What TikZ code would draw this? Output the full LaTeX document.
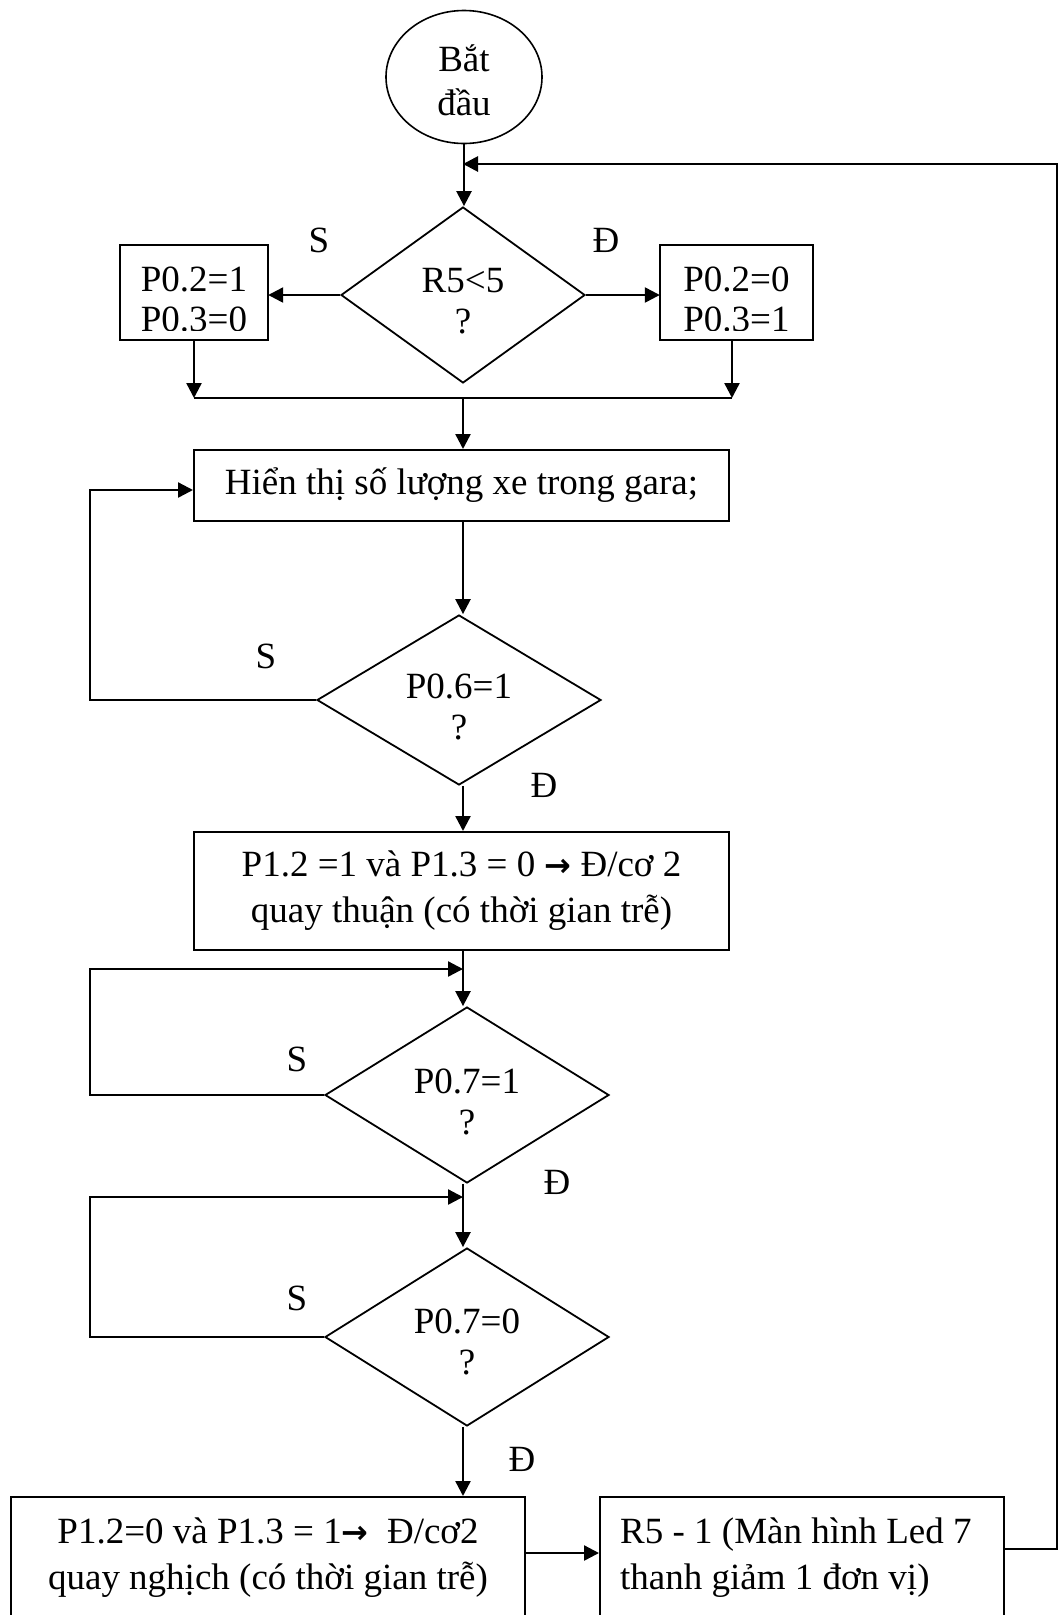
\documentclass[tikz,border=0pt]{standalone}
\usepackage{fontspec}
\setmainfont{Liberation Serif}
\newfontfamily\arrfont{DejaVu Sans}
\usetikzlibrary{shapes.geometric,arrows.meta}
\newcommand\myfs{\fontsize{37}{46}\selectfont}
\newcommand\myfsb{\fontsize{37}{41}\selectfont}
\newcommand\myfsc{\fontsize{37}{40}\selectfont}
\newcommand\myarr{{\arrfont\bfseries\fontsize{32}{32}\selectfont →}}
\begin{document}
\begin{tikzpicture}[x=1pt,y=-1pt,
  line/.style={line width=2.4pt},
  arr/.style={line width=2.4pt,-{Triangle[length=15pt,width=15pt]}},
  boxn/.style={draw,line width=2pt,rectangle,inner sep=0pt},
  dia/.style={draw,line width=1.8pt,diamond,aspect=2,inner sep=0pt},
  dtext/.style={align=center,font=\myfsb,inner sep=0pt},
  lbl/.style={font=\myfs,inner sep=0pt}]
\useasboundingbox (0,0) rectangle (1059,1615);

% start
\node[draw,ellipse,line width=1.6pt,minimum width=156,minimum height=133,inner sep=0pt] (start) at (464,77) {};
\node[align=center,font=\fontsize{37}{44}\selectfont,inner sep=0pt] (startt) at (464,80) {Bắt\\đầu};

% decisions
\node[dia,minimum width=244,minimum height=176] (d1) at (463,295) {};
\node[dtext] (d1t) at (463,301) {R5<5\\?};
\node[dia,minimum width=284,minimum height=170] (d2) at (459,700) {};
\node[dtext] (d2t) at (459,707) {P0.6=1\\?};
\node[dia,minimum width=284,minimum height=176] (d3) at (467,1095) {};
\node[dtext] (d3t) at (467,1102) {P0.7=1\\?};
\node[dia,minimum width=284,minimum height=178] (d4) at (467,1337) {};
\node[dtext] (d4t) at (467,1342) {P0.7=0\\?};

% small boxes (text clipped at the bottom as in the original)
\node[inner sep=0pt,minimum width=148,minimum height=95] (bL) at (194,292.5) {};
\begin{scope}
\clip (120,245) rectangle (268,330);
\node[inner sep=0pt,align=center,font=\myfsc] (bLt) at (194,299) {P0.2=1\\P0.3=0};
\end{scope}
\draw[line width=2pt] (bL.north west) rectangle (bL.south east);
\node[inner sep=0pt,minimum width=153,minimum height=95] (bR) at (736.5,292.5) {};
\begin{scope}
\clip (660,245) rectangle (813,330);
\node[inner sep=0pt,align=center,font=\myfsc] (bRt) at (736.5,299) {P0.2=0\\P0.3=1};
\end{scope}
\draw[line width=2pt] (bR.north west) rectangle (bR.south east);

% process boxes
\node[boxn,minimum width=535,minimum height=71,font=\myfs] (disp) at (461.5,485.5) {Hiển thị số lượng xe trong gara;};
\node[boxn,minimum width=535,minimum height=118,align=center,font=\myfs] (b2) at (461.5,891) {P1.2 =1 và P1.3 = 0 \myarr{} Đ/cơ 2\\quay thuận (có thời gian trễ)};
\node[boxn,minimum width=513.5,minimum height=128] (b3) at (268,1561) {};
\node[align=center,font=\myfs,inner sep=0pt] (b3t) at (268,1558) {P1.2=0 và P1.3 = 1\myarr{}~ Đ/cơ2\\quay nghịch (có thời gian trễ)};
\node[boxn,minimum width=404,minimum height=128] (b4) at (802,1561) {};
\node[align=left,font=\myfs,inner sep=0pt,anchor=west] (b4t) at (620,1558) {R5 - 1 (Màn hình Led 7\\thanh giảm 1 đơn vị)};

% labels
\node[lbl] (s1) at (319,240) {S};
\node[lbl] (e1) at (606,240) {Đ};
\node[lbl] (s2) at (266,656) {S};
\node[lbl] (e2) at (544,785) {Đ};
\node[lbl] (s3) at (297,1059) {S};
\node[lbl] (e3) at (557,1182) {Đ};
\node[lbl] (s4) at (297,1298) {S};
\node[lbl] (e4) at (522,1459) {Đ};

% coordinates
\coordinate (jL) at (194,398);
\coordinate (jR) at (732,398);
\coordinate (jM) at (463,398);
\coordinate (l1) at (90,490);
\coordinate (m1) at (463,969);
\coordinate (l2) at (90,969);
\coordinate (m2) at (463,1197);
\coordinate (l3) at (90,1197);
\coordinate (h1) at (0,1553);
\coordinate (r1) at (1057,1549);
\coordinate (r2) at (1057,164);
\coordinate (r3) at (463,164);

% connectors
\draw[arr] (start.south) -- (start.south |- d1.north);
\draw[arr] (d1.west) -- (d1.west -| bL.east);
\draw[arr] (d1.east) -- (d1.east -| bR.west);
\draw[arr] (bL.south) -- (jL);
\draw[arr] (bR.south -| jR) -- (jR);
\draw[line] (jL) -- (jR);
\draw[arr] (jM) -- (jM |- disp.north);
\draw[arr] (disp.south -| jM) -- (jM |- d2.north);
\draw[arr] (d2.west) -| (l1) -- (l1 -| disp.west);
\draw[arr] (jM |- d2.south) -- (jM |- b2.north);
\draw[line] (b2.south -| m1) -- (m1);
\draw[arr] (m1) -- (m1 |- d3.north);
\draw[arr] (d3.west) -| (l2) -- (m1);
\draw[line] (m2 |- d3.south) -- (m2);
\draw[arr] (m2) -- (m2 |- d4.north);
\draw[arr] (d4.west) -| (l3) -- (m2);
\draw[arr] (m2 |- d4.south) -- (m2 |- b3.north);
\draw[arr] (b3.east |- h1) -- (b4.west |- h1);
\draw[arr,line width=2.8pt] (b4.east |- r1) -- (r1) -- (r2) -- (r3);
\end{tikzpicture}
\end{document}
